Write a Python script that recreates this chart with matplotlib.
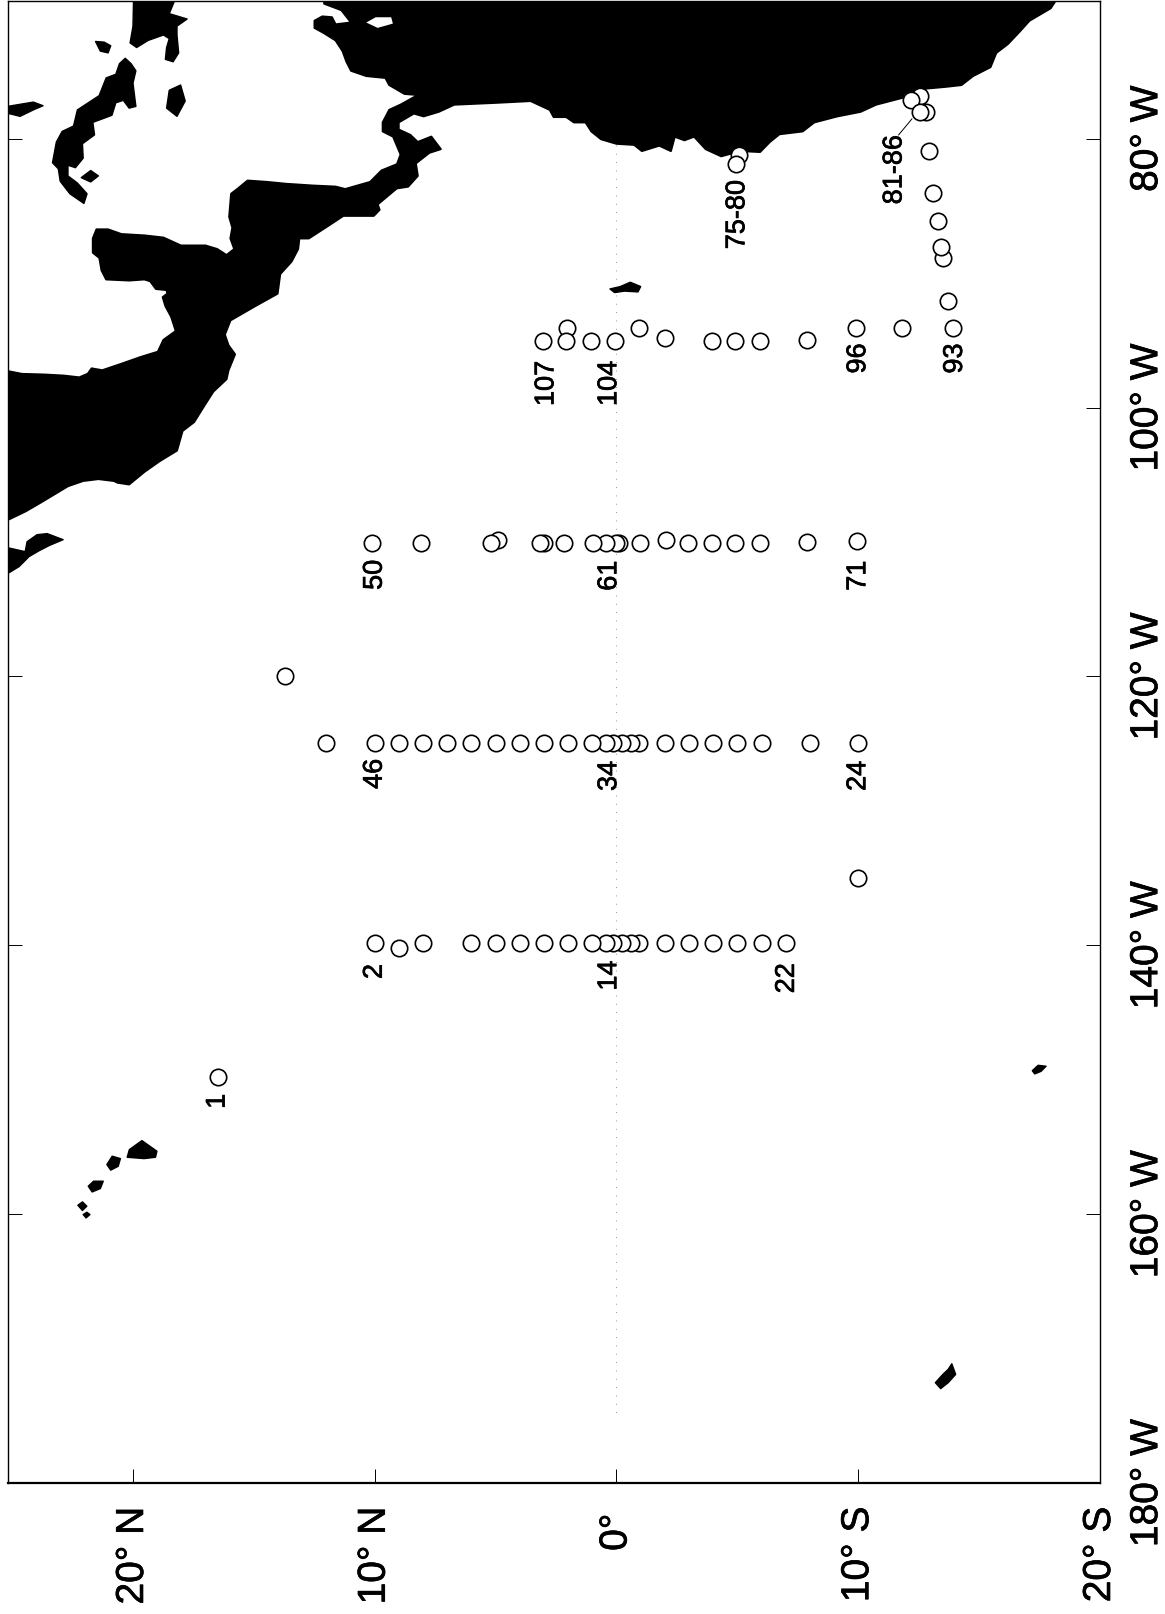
import matplotlib
matplotlib.use("Agg")
import matplotlib.pyplot as plt
import matplotlib.patheffects as pe
from matplotlib.transforms import ScaledTranslation

plt.rcParams['font.family'] = ['Liberation Sans', 'DejaVu Sans']

# ejes: latitud (norte a la izquierda), longitud oeste (180 abajo)
lat_ticks = [20, 10, 0, -10, -20]
lat_labels = ['20° N', '10° N', '0°', '10° S', '20° S']
lon_ticks = [80, 100, 120, 140, 160, 180]
lon_labels = ['80° W', '100° W', '120° W', '140° W', '160° W', '180° W']

# estaciones, de sur a norte para que la de la izquierda quede encima
lat_140 = [-7, -6, -5, -4, -3, -2, -0.95, -0.58, -0.23, 0.14, 0.43, 1, 2, 3, 4, 5, 6, 8, 9, 10]
lon_140 = [139.85, 139.85, 139.85, 139.85, 139.85, 139.85, 139.85, 139.85, 139.85, 139.85, 139.85, 139.85, 139.85, 139.85,
           139.85, 139.85, 139.85, 139.85, 140.2, 139.85]
lat_125 = [-10, -8, -6, -5, -4, -3, -2, -0.95, -0.58, -0.23, 0.14, 0.43, 1, 2, 3, 4, 5, 6, 7, 8, 9, 10, 12]
lon_125 = [124.97, 124.97, 124.97, 124.97, 124.97, 124.97, 124.97, 124.97, 124.97, 124.97, 124.97, 124.97, 124.97, 124.97,
           124.97, 124.97, 124.97, 124.97, 124.97, 124.97, 124.97, 124.97, 124.97]
lat_110 = [-9.95, -7.9, -5.95, -4.91, -3.93, -2.94, -2.04, -0.98, -0.1, 0.01, 0.43, 0.98, 2.18, 2.98, 3.18, 4.9, 5.18, 8.1, 10.1]
lon_110 = [109.9, 110, 110.07, 110.07, 110.07, 110.07, 109.85, 110.07, 110.07, 110.07, 110.07, 110.07, 110.07, 110.07,
           110.07, 109.83, 110.07, 110.07, 110.07]
lat_95 = [-13.92, -11.79, -9.9, -7.86, -5.95, -4.91, -3.93, -2.02, -0.93, 0.08, 1.05, 2.05, 2.08, 3.03]
lon_95 = [94.05, 94.05, 94.05, 94.98, 95.03, 95.03, 95.03, 94.84, 94.05, 95.05, 95.05, 94.1, 95.05, 95.05]
lat_coast = [-13.71, -13.5, -13.44, -13.31, -13.09, -12.91, -12.8, -12.56, -12.19, -12.54, -5.05, -4.93]
lon_coast = [92.06, 88.87, 88.08, 86.09, 84.02, 80.92, 78.05, 76.86, 77.15, 78.05, 81.18, 81.9]
lat_other = [16.5, 13.7, -10]
lon_other = [149.8, 120, 135]

# etiquetas de estaciones
label_text = ['1', '2', '14', '22', '46', '34', '24', '50', '61', '71', '107', '104', '96', '93', '75-80', '81-86']
label_lat = [16.5, 10.0, 0.3, -7.05, 10.0, 0.3, -10, 10.0, 0.3, -10, 2.9, 0.3, -10, -14, -5, -11.5]
label_lon = [151.6, 141.95, 142.25, 142.45, 127.25, 127.4, 127.4, 112.45, 112.5, 112.5, 98.2, 98.2, 96.35, 96.35, 85.65, 82.3]

# america
america_lat = [26, 25.22, 24.59, 23.64, 22.85, 22.22, 21.87, 21.71, 21.27, 20.48, 19.69, 18.97, 18.74, 18.23, 18.42, 18.66,
               18.77, 18.58, 18.61, 19.05, 19.29, 19.53, 20.16, 21.11, 21.30, 21.39, 21.66, 21.66, 21.51, 21.03, 20.48,
               19.53, 18.74, 18.02, 17.00, 16.52, 16.13, 15.81, 15.97, 15.89, 16.02, 15.94, 15.65, 15.26, 14.46, 13.67,
               12.57, 11.62, 11.22, 10.19, 9.72, 9.08, 8.93, 9.24, 9.67, 9.67, 9.40, 8.93, 8.21, 8.77, 9.40, 9.56, 10.35,
               10.98, 11.17, 11.33, 11.62, 12.09, 12.49, 12.49, 12.17, 11.77, 11.62, 10.98, 11.38, 12.09, 12.09,
               -18.43, -17.96, -17.08, -16.68, -16.19, -15.71, -15.47, -14.75, -14.27, -13.63, -12.83, -11.87, -10.74,
               -10.10, -9.14, -8.18, -7.70, -6.74, -6.34, -5.94, -5.13, -4.33, -3.69, -3.21, -2.81, -2.41, -2.25, -1.77,
               -1.05, -0.73, 0.0, 0.64, 1.04, 1.28, 1.76, 2.08, 2.60, 2.76, 3.55, 4.97, 6.71, 7.35, 7.98, 8.38, 9.01, 9.01,
               8.53, 8.22, 7.66, 7.27, 7.74, 8.30, 8.22, 8.62, 9.09, 9.88, 9.80, 10.04, 11.30, 11.93, 12.73, 13.12, 13.17,
               13.44, 13.91, 14.02, 14.94, 15.97, 16.20, 16.05, 15.78, 16.05, 16.13, 16.68, 17.15, 17.47, 17.95, 18.18,
               18.90, 19.53, 20.16, 20.64, 20.79, 21.43, 22.06, 22.69, 23.80, 24.43, 25.19, 26]
america_lon = [97.28, 97.28, 97.50, 97.55, 97.63, 97.76, 97.49, 97.09, 97.23, 96.75, 96.25, 95.85, 94.97, 94.31, 93.25, 92.45,
               91.79, 91.53, 91.26, 91.18, 90.60, 90.47, 90.55, 90.47, 89.80, 88.87, 88.48, 87.42, 86.75, 86.75, 87.10,
               87.20, 87.36, 87.95, 87.95, 88.21, 88.66, 88.21, 87.42, 86.62, 85.82, 84.10, 83.70, 83.12, 83.22, 83.36,
               83.49, 83.57, 83.75, 83.22, 82.37, 81.90, 81.18, 79.85, 79.46, 78.79, 77.86, 77.47, 76.75, 76.67, 76.01, 75.48, 75.34,
               74.95, 74.28, 73.49, 72.69, 72.16, 71.76, 71.23, 70.91, 70.97, 71.50, 71.36, 70.44, 69.96, 69.0,
               69.0, 70.30, 71.23, 72.03, 72.96, 73.62, 74.68, 75.34, 76.01, 76.14, 76.27, 76.94, 77.47,
               78.00, 78.34, 78.79, 79.46, 79.67, 80.25, 80.99, 80.92, 81.31, 80.78, 79.85, 80.12, 79.85, 80.92, 80.52,
               80.92, 80.46, 80.38, 80.04, 79.46, 78.79, 78.79, 78.39, 78.39, 77.86, 77.20, 77.33, 77.47, 78.00, 78.34, 78.13, 78.79, 79.32,
               79.72, 80.25, 79.85, 80.78, 81.05, 81.84, 82.77, 83.57, 83.70, 84.89, 85.29, 85.74, 85.74, 86.49, 87.42, 87.42, 88.21,
               89.14, 90.07, 91.53, 92.45, 93.52, 94.58, 95.37, 96.04, 97.23, 97.89, 98.82, 100.15, 101.08, 101.74, 103.20,
               103.99, 104.79, 105.72, 105.59, 105.46, 105.32, 105.46, 105.85, 107.05, 107.71, 108.37, 108.37]

# lago (blanco sobre tierra)
lake_lat = [10.35, 9.96, 9.32, 9.25, 9.88]
lake_lon = [71.36, 70.97, 70.97, 71.44, 71.76]

# islas y penínsulas, (lat, lon)
baja_lat = [26, 25.2, 24.46, 24.38, 23.97, 23.55, 22.89, 23.47, 23.88, 24.30, 24.71, 25.12, 26]
baja_lon = [110.42, 110.42, 110.72, 109.98, 109.46, 109.38, 109.83, 110.27, 110.65, 111.09, 111.83, 112.28, 112.28]
florida_lat = [19.97, 18.11, 18.50, 17.76, 18.18, 18.18, 18.11, 18.34, 18.66, 18.61, 18.50, 18.74, 19.37, 19.85, 20.12, 20.00]
florida_lon = [69.0, 69.0, 70.70, 71.10, 71.63, 72.29, 73.62, 74.28, 74.10, 73.22, 72.56, 72.29, 72.69, 73.22, 72.88, 71.63]
bahama_lat = [21.55, 21.19, 20.92, 21.03, 21.35]
bahama_lon = [72.77, 72.82, 73.09, 73.62, 73.49]
cuba_lat = [20.32, 20.08, 19.88, 20.00, 19.88, 20.16, 20.40, 20.71, 20.87, 21.66, 21.59, 22.09, 22.06, 22.38, 22.69, 22.69,
            22.30, 21.90, 22.03, 22.61, 23.01, 23.09, 23.33, 23.17, 22.93, 22.46, 22.30, 21.40, 21.11, 20.71, 20.56]
cuba_lon = [74.02, 74.42, 74.95, 75.87, 77.60, 77.73, 77.15, 77.33, 78.26, 78.79, 79.72, 80.38, 81.45, 82.16, 81.98, 82.77,
            83.30, 84.10, 84.82, 84.10, 83.17, 82.24, 81.79, 80.25, 79.46, 79.06, 77.86, 76.80, 75.48, 75.21, 74.42]
jamaica_lat = [18.50, 18.03, 17.84, 18.18, 18.61]
jamaica_lon = [76.40, 76.01, 77.20, 78.34, 77.73]
isla_lat = [22.14, 21.75, 21.43, 21.75]
isla_lon = [82.90, 82.37, 82.77, 83.22]
andros_lat = [26, 25.19, 24.12, 23.72, 24.12, 24.67, 25.14, 26]
andros_lon = [77.6, 77.60, 77.28, 77.55, 77.86, 78.34, 78.13, 78.13]
galapagos_lat = [0.27, -0.16, -0.57, -1.00, -0.89, -0.33, 0.08]
galapagos_lon = [91.18, 91.0, 90.68, 91.0, 91.40, 91.34, 91.45]
hawaii1_lat = [19.63, 19.01, 19.07, 19.54, 20.24, 20.15]
hawaii1_lon = [154.53, 155.32, 155.77, 155.87, 155.77, 155.20]
hawaii2_lat = [20.86, 20.52, 20.61, 20.92, 21.08]
hawaii2_lon = [155.69, 155.87, 156.44, 156.73, 156.31]
hawaii3_lat = [21.63, 21.23, 21.35, 21.69, 21.85]
hawaii3_lon = [157.55, 157.55, 158.10, 158.35, 157.92]
hawaii4_lat = [22.28, 22.09, 21.91, 22.09]
hawaii4_lon = [159.34, 159.09, 159.41, 159.73]
hawaii5_lat = [21.91, 21.78, 21.94, 22.06]
hawaii5_lon = [159.86, 160.03, 160.28, 160.03]
samoa_lat = [-13.87, -14.03, -13.72, -13.41, -13.19, -13.50, -13.72]
samoa_lon = [171.13, 171.92, 172.54, 172.98, 172.54, 171.92, 171.55]
tahiti_lat = [-17.2, -17.44, -17.77, -17.56, -17.3]
tahiti_lon = [149.33, 148.93, 149.0, 149.38, 149.57]

fig = plt.figure(figsize=(11.65, 16.15), dpi=100)
ax = fig.add_axes([8 / 1165, 1 - 1484 / 1615, (1100 - 8) / 1165, (1484 - 2) / 1615])
ax.set_xlim(25.17, -20)
ax.set_ylim(180, 69.76)

# tierra
ax.fill(america_lat, america_lon, fc='black', ec='black', lw=1.5, joinstyle='round', zorder=1)
ax.fill(lake_lat, lake_lon, color='white', lw=0, zorder=1.5)
islas = [(baja_lat, baja_lon), (florida_lat, florida_lon), (bahama_lat, bahama_lon), (cuba_lat, cuba_lon),
         (jamaica_lat, jamaica_lon), (isla_lat, isla_lon), (andros_lat, andros_lon), (galapagos_lat, galapagos_lon),
         (hawaii1_lat, hawaii1_lon), (hawaii2_lat, hawaii2_lon), (hawaii3_lat, hawaii3_lon), (hawaii4_lat, hawaii4_lon),
         (hawaii5_lat, hawaii5_lon), (samoa_lat, samoa_lon), (tahiti_lat, tahiti_lon)]
for la, lo in islas:
    ax.fill(la, lo, fc='black', ec='black', lw=1.0, joinstyle='round', zorder=1)

# ecuador punteado
ax.plot([0, 0], [80.5, 175], color='#777777', lw=0.6, ls=(0, (1, 9)), zorder=0.5)

# estaciones
for la, lo in [(lat_other, lon_other), (lat_140, lon_140), (lat_125, lon_125), (lat_110, lon_110),
               (lat_95, lon_95), (lat_coast, lon_coast)]:
    ax.plot(la, lo, 'o', ms=11.8, mfc='white', mec='black', mew=1.2, ls='none', zorder=3)

grueso = [pe.withStroke(linewidth=0.5, foreground='black')]
ax.plot([-12.22, -11.67], [78.53, 79.72], color='black', lw=0.7, zorder=2.5)
for t, la, lo in zip(label_text, label_lat, label_lon):
    ax.text(la, lo, t, rotation=90, ha='center', va='center', fontsize=19.5, zorder=4, path_effects=grueso)

ax.set_xticks(lat_ticks)
ax.set_xticklabels(lat_labels, rotation=90, fontsize=28, va='top', ha='center', path_effects=grueso)
ax.set_yticks(lon_ticks)
ax.set_yticklabels(lon_labels, rotation=90, fontsize=28, va='center', ha='left', path_effects=grueso)
ax.tick_params(axis='x', direction='in', length=10, width=0.7, top=True, bottom=True, pad=17)
ax.tick_params(axis='y', direction='in', length=10, width=0.7, left=True, right=True,
               labelleft=False, labelright=True, pad=21)
for s in ax.spines.values():
    s.set_linewidth(1.0)
ax.spines['bottom'].set_linewidth(1.6)

# el 0° empieza algo mas abajo que los otros rotulos
lab0 = ax.get_xticklabels()[2]
lab0.set_transform(lab0.get_transform() + ScaledTranslation(0, -5 / 72, fig.dpi_scale_trans))

fig.savefig('out.png', dpi=100)
